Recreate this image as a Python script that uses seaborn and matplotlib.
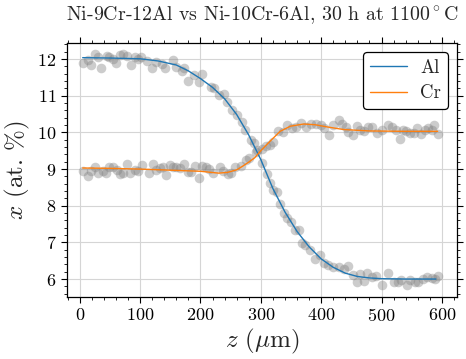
import numpy as np
import pandas as pd
import matplotlib
matplotlib.use("Agg")
import matplotlib.pyplot as plt
import seaborn as sns
from matplotlib.ticker import AutoMinorLocator, MultipleLocator

# ---- data ----
al_z = [6, 14, 18, 25, 31, 36, 45, 49, 56, 60, 67, 72, 78, 85, 91, 97, 102, 111, 119, 126,
        136, 141, 155, 160, 169, 173, 179, 190, 197, 203, 217, 222, 230, 239, 244, 252, 261,
        269, 274, 283, 288, 293, 302, 310, 315, 321, 327, 332, 339, 344, 350, 357, 364, 368,
        374, 382, 390, 398, 404, 412, 420, 429, 437, 445, 452, 459, 464, 471, 476, 484, 491,
        500, 511, 520, 528, 533, 542, 547, 555, 561, 569, 576, 583, 588, 594]
al_x = [11.89, 11.97, 11.85, 12.14, 12.05, 11.77, 12.09, 12.06, 12.00, 11.89, 12.11, 12.14,
        12.09, 11.84, 12.05, 12.00, 12.05, 11.95, 11.75, 11.91, 11.86, 11.75, 11.97, 11.79,
        11.68, 11.77, 11.40, 11.56, 11.37, 11.59, 11.25, 11.20, 11.02, 11.04, 10.84, 10.61,
        10.47, 10.29, 10.06, 9.79, 9.72, 9.52, 9.16, 8.86, 8.61, 8.43, 8.38, 8.06, 7.81, 7.66,
        7.56, 7.34, 7.34, 6.97, 6.93, 6.79, 6.56, 6.65, 6.43, 6.38, 6.34, 6.34, 6.27, 6.35,
        6.11, 5.93, 6.14, 5.95, 6.16, 6.06, 6.08, 5.84, 6.16, 5.93, 5.91, 5.98, 5.84, 5.98,
        5.93, 5.93, 5.99, 6.05, 6.02, 5.99, 6.08]

cr_z = [6, 13, 18, 25, 31, 38, 43, 49, 55, 61, 67, 71, 79, 84, 91, 97, 104, 114, 121, 126,
        133, 138, 143, 149, 155, 160, 166, 172, 180, 185, 191, 197, 203, 209, 214, 221, 232,
        237, 246, 251, 257, 268, 276, 281, 292, 302, 309, 316, 321, 328, 336, 344, 351, 359,
        367, 375, 383, 391, 399, 404, 413, 420, 429, 434, 441, 445, 452, 459, 464, 471, 478,
        485, 493, 500, 510, 517, 524, 530, 535, 541, 547, 553, 559, 565, 572, 577, 583, 587, 594]
cr_x = [8.95, 8.81, 8.96, 9.06, 8.88, 8.95, 8.90, 9.06, 9.05, 8.97, 8.86, 8.90, 9.14, 8.90,
        8.97, 8.95, 9.11, 8.90, 9.14, 8.97, 9.02, 9.06, 8.84, 9.11, 9.06, 9.06, 9.02, 9.14,
        8.93, 8.93, 9.08, 8.75, 9.08, 9.06, 8.99, 8.90, 9.06, 8.95, 8.86, 8.90, 9.05, 9.08,
        9.26, 9.31, 9.47, 9.56, 9.63, 9.65, 9.75, 10.04, 10.02, 10.20, 10.11, 10.15, 10.26,
        10.15, 10.23, 10.23, 10.20, 10.11, 9.92, 10.20, 10.35, 10.23, 10.14, 10.02, 9.93,
        10.17, 10.06, 10.04, 10.15, 10.14, 9.99, 10.08, 10.20, 10.14, 10.06, 9.81, 10.08,
        10.04, 9.99, 9.99, 10.11, 9.97, 10.08, 10.11, 10.06, 10.20, 9.96]

# fitted profiles
al_fit_z = [5, 50, 100, 130, 160, 180, 200, 220, 240, 260, 280, 300, 320, 340, 360, 380, 400,
            420, 440, 460, 480, 500, 540, 590]
al_fit_x = [12.04, 12.03, 12.01, 11.95, 11.84, 11.68, 11.47, 11.23, 10.92, 10.49, 9.93, 9.26,
            8.47, 7.83, 7.30, 6.88, 6.55, 6.32, 6.16, 6.07, 6.03, 6.01, 6.00, 6.00]
cr_fit_z = [5, 50, 100, 150, 200, 230, 245, 260, 270, 280, 290, 300, 316, 332, 349, 371, 390,
            410, 437, 480, 540, 593]
cr_fit_x = [9.03, 9.02, 9.00, 8.97, 8.94, 8.89, 8.91, 8.98, 9.08, 9.19, 9.31, 9.50, 9.77,
            10.03, 10.17, 10.23, 10.21, 10.15, 10.08, 10.04, 10.03, 10.03]

title = r"Ni-9Cr-12Al vs Ni-10Cr-6Al, 30 h at 1100$^\circ$C"
xlabel = r"$z$ ($\mu$m)"
ylabel = r"$x$ (at. %)"

# ---- style ----
sns.set_style("ticks")
plt.rcParams["font.family"] = ["cmr10", "DejaVu Serif"]
plt.rcParams["mathtext.fontset"] = "cm"
plt.rcParams["axes.formatter.use_mathtext"] = True
plt.rcParams["axes.unicode_minus"] = False

fig = plt.figure(figsize=(4.66, 3.59), dpi=100)
ax = fig.add_axes([0.1438, 0.1727, 0.8369, 0.7075])

pts = pd.DataFrame({"z": al_z + cr_z, "x": al_x + cr_x})
sns.scatterplot(data=pts, x="z", y="x", ax=ax, color="gray", alpha=0.4, s=48,
                linewidth=0, legend=False, zorder=2)

al_df = pd.DataFrame({"z": al_fit_z, "x": al_fit_x})
cr_df = pd.DataFrame({"z": cr_fit_z, "x": cr_fit_x})
sns.lineplot(data=al_df, x="z", y="x", ax=ax, color="tab:blue", lw=1.0, label="Al", zorder=3)
sns.lineplot(data=cr_df, x="z", y="x", ax=ax, color="tab:orange", lw=1.0, label="Cr", zorder=3)

ax.set_xlim(-21, 625)
ax.set_ylim(5.51, 12.44)
ax.xaxis.set_major_locator(MultipleLocator(100))
ax.yaxis.set_major_locator(MultipleLocator(1))
ax.xaxis.set_minor_locator(AutoMinorLocator())
ax.yaxis.set_minor_locator(AutoMinorLocator())
ax.tick_params(which="both", direction="out", top=True, right=True, colors="black",
               labelsize=13)
ax.tick_params(which="major", length=4, width=0.8)
ax.tick_params(which="minor", length=2, width=0.6)
for s in ax.spines.values():
    s.set_color("black")
    s.set_linewidth(0.9)
ax.grid(True, which="major", color="#d5d5d5", linewidth=0.8, zorder=0)
ax.set_axisbelow(True)

ax.set_xlabel(xlabel, fontsize=18, labelpad=2)
ax.set_ylabel(ylabel, fontsize=18, labelpad=4)
ax.set_title(title, fontsize=14.3, pad=16)

leg = ax.legend(loc="upper right", fontsize=13.5, frameon=True, fancybox=True,
                edgecolor="black", framealpha=1.0, handlelength=2.0,
                borderpad=0.35, labelspacing=0.4, handletextpad=0.7)
leg.get_frame().set_linewidth(0.9)

fig.savefig("out.png", dpi=100)
